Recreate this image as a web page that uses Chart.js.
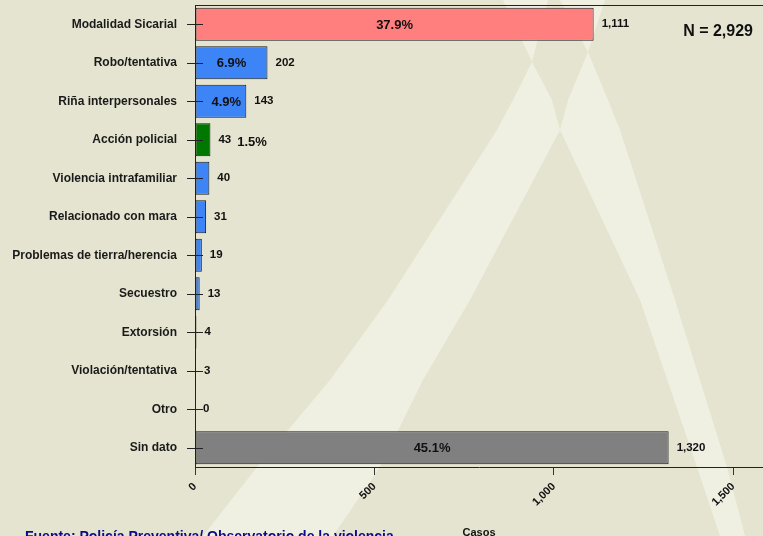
<!DOCTYPE html>
<html>
<head>
<meta charset="utf-8">
<script src="https://cdn.jsdelivr.net/npm/chart.js@4.4.1/dist/chart.umd.min.js"></script>
<style>
  body{margin:0;background:#e5e4d0;}
</style>
</head>
<body>
<canvas id="chart1" width="763" height="536"></canvas>
<script>
var categorias = ['Modalidad Sicarial','Robo/tentativa','Riña interpersonales','Acción policial','Violencia intrafamiliar','Relacionado con mara','Problemas de tierra/herencia','Secuestro','Extorsión','Violación/tentativa','Otro','Sin dato'];
var casos = [1111,202,143,43,40,31,19,13,4,3,0,1320];
var colores = ['#ff7f7f','#3d85f6','#3d85f6','#007800','#3d85f6','#3d85f6','#3d85f6','#3d85f6','#3d85f6','#3d85f6','#3d85f6','#808080'];
var conPorcentaje = ['Modalidad Sicarial','Robo/tentativa','Riña interpersonales','Acción policial','Sin dato'];
var ticksX = [0,500,1000,1500];
var maxX = 1583;
var tituloX = 'Casos';
var fuente = 'Fuente: Policía Preventiva/ Observatorio de la violencia';

var total = 0;
for(let i = 0; i < casos.length; i++) {
  total += casos[i];
}

function fmt(n){
  return n.toLocaleString('en-US');
}

function poly(ctx, pts){
  ctx.beginPath();
  ctx.moveTo(pts[0][0], pts[0][1]);
  for(let i = 1; i < pts.length; i++) {
    ctx.lineTo(pts[i][0], pts[i][1]);
  }
  ctx.closePath();
  ctx.fill();
}

// fondo con las franjas claras
var fondo = {
  id: 'fondo',
  beforeDraw: function(chart){
    var ctx = chart.ctx;
    ctx.save();
    ctx.fillStyle = '#e5e4d0';
    ctx.fillRect(0, 0, chart.width, chart.height);
    ctx.fillStyle = '#eff0e2';
    poly(ctx, [[532,62],[513,100],[497,130],[388,300],[330,380],[257,467],[203,536],
               [333,536],[380,467],[423,380],[470,300],[560,130],[552,100]]);
    poly(ctx, [[588,52],[568,100],[560,130],[640,300],[697,467],[720,536],
               [745,536],[727,467],[675,300],[620,130],[608,100]]);
    poly(ctx, [[532,62],[503,0],[548,0]]);
    poly(ctx, [[588,52],[560,0],[605,0]]);
    ctx.restore();
  }
};

var marcas = {
  id: 'marcas',
  afterDatasetsDraw: function(chart){
    var ctx = chart.ctx;
    var area = chart.chartArea;
    var ys = chart.scales.y;
    var meta = chart.getDatasetMeta(0);
    ctx.save();
    // linea superior
    ctx.strokeStyle = '#222';
    ctx.lineWidth = 1;
    ctx.beginPath();
    ctx.moveTo(area.left, Math.round(area.top) + 0.5);
    ctx.lineTo(chart.width, Math.round(area.top) + 0.5);
    ctx.stroke();
    // marcas del eje y, cruzan el eje
    for(let i = 0; i < categorias.length; i++) {
      var y = Math.round(ys.getPixelForTick(i)) + 0.5;
      ctx.beginPath();
      ctx.moveTo(area.left - 8, y);
      ctx.lineTo(area.left + 8, y);
      ctx.stroke();
    }
    ctx.fillStyle = '#111';
    ctx.textBaseline = 'middle';
    for(let i = 0; i < casos.length; i++) {
      var bar = meta.data[i];
      ctx.font = 'bold 11.5px "Liberation Sans", Arial, sans-serif';
      ctx.textAlign = 'left';
      var txt = fmt(casos[i]);
      ctx.fillText(txt, bar.x + 8, bar.y);
      var cw = ctx.measureText(txt).width;
      if(conPorcentaje.indexOf(categorias[i]) >= 0){
        var pct = (casos[i] / total * 100).toFixed(1) + '%';
        ctx.font = 'bold 13px "Liberation Sans", Arial, sans-serif';
        var pw = ctx.measureText(pct).width;
        if(bar.x - bar.base > pw + 10){
          ctx.textAlign = 'center';
          var cx = Math.max((bar.x + bar.base) / 2, bar.base + 16 + pw / 2);
          ctx.fillText(pct, cx, bar.y + 1);
        } else {
          ctx.textAlign = 'left';
          ctx.fillText(pct, bar.x + 8 + cw + 6, bar.y + 3);
        }
      }
    }
    ctx.restore();
  },
  afterDraw: function(chart){
    var ctx = chart.ctx;
    ctx.save();
    ctx.fillStyle = '#111';
    ctx.font = 'bold 16px "Liberation Sans", Arial, sans-serif';
    ctx.textAlign = 'right';
    ctx.textBaseline = 'middle';
    ctx.fillText('N = ' + fmt(total), chart.width - 10, 32);
    ctx.fillStyle = '#0c0c8a';
    ctx.font = 'bold 14px "Liberation Sans", Arial, sans-serif';
    ctx.textAlign = 'left';
    ctx.textBaseline = 'alphabetic';
    ctx.fillText(fuente, 25, 541);
    ctx.restore();
  }
};

new Chart(document.querySelector('#chart1'), {
  type: 'bar',
  data: {
    labels: categorias,
    datasets: [{
      data: casos,
      backgroundColor: colores,
      borderColor: '#1a1a1a',
      borderWidth: 1,
      borderSkipped: false,
      barPercentage: 0.86,
      categoryPercentage: 1
    }]
  },
  options: {
    indexAxis: 'y',
    responsive: false,
    animation: false,
    layout: { padding: { top: 5, right: 0, left: 0, bottom: 0 } },
    plugins: {
      legend: { display: false },
      tooltip: { enabled: false }
    },
    scales: {
      x: {
        type: 'linear',
        min: 0,
        max: maxX,
        afterBuildTicks: function(scale){
          scale.ticks = ticksX.map(function(v){ return {value: v}; });
        },
        afterFit: function(scale){
          scale.height = 69;
          scale.paddingLeft = 0;
          scale.paddingRight = 0;
        },
        grid: { display: true, drawOnChartArea: false, drawTicks: true, tickLength: 8, color: '#333' },
        border: { display: true, color: '#222', width: 1 },
        ticks: {
          autoSkip: false,
          maxRotation: 45,
          minRotation: 45,
          padding: 5,
          color: '#111',
          font: { family: '"Liberation Sans", Arial, sans-serif', size: 11, weight: 'bold' },
          callback: function(v){ return fmt(v); }
        },
        title: {
          display: true,
          text: tituloX,
          color: '#111',
          padding: { top: 0, bottom: -4 },
          font: { family: '"Liberation Sans", Arial, sans-serif', size: 11, weight: 'bold' }
        }
      },
      y: {
        afterFit: function(scale){
          scale.width = 195;
          scale.paddingTop = 0;
          scale.paddingBottom = 0;
        },
        grid: { display: false, drawTicks: false },
        border: { display: true, color: '#222', width: 1 },
        ticks: {
          padding: 18,
          color: '#1a1a1a',
          font: { family: '"Liberation Sans", Arial, sans-serif', size: 12, weight: 'bold' }
        }
      }
    }
  },
  plugins: [fondo, marcas]
});
</script>
</body>
</html>
